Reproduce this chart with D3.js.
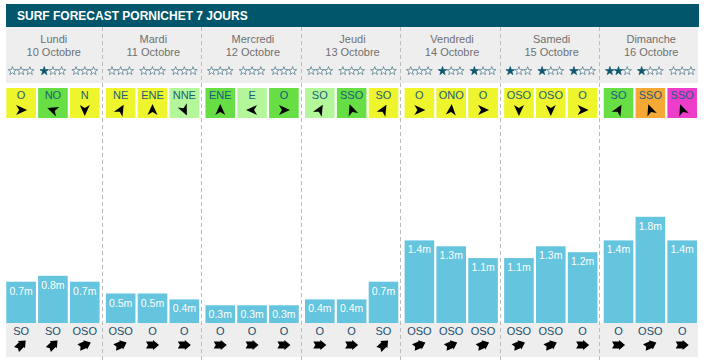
<!DOCTYPE html>
<html lang="fr">
  <head>
    <meta charset="utf-8">
    <title>Surf forecast Pornichet</title>
    <script src="https://cdn.jsdelivr.net/npm/d3@7"></script>
    <style>
html, body {
  margin: 0;
  padding: 0;
  background: #fff;
}
svg {
  display: block;
  font-family: Arial, "Liberation Sans", sans-serif;
}
    </style>
  </head>
  <body>
    <div id="chart"></div>
    <script>

// donnees
var days = ["Lundi", "Mardi", "Mercredi", "Jeudi", "Vendredi", "Samedi", "Dimanche"];
var dates = ["10 Octobre", "11 Octobre", "12 Octobre", "13 Octobre", "14 Octobre", "15 Octobre", "16 Octobre"];
var slots = [0, 1, 2];

// etoiles pleines par creneau
var stars = [[0,1,0],[0,0,0],[0,0,0],[0,0,0],[0,1,1],[1,1,1],[2,1,0]];

// vent
var windDir = [
  ["O","NO","N"], ["NE","ENE","NNE"], ["ENE","E","O"], ["SO","SSO","SO"],
  ["O","ONO","O"], ["OSO","OSO","O"], ["SO","SSO","SSO"]
];
var windLevel = [
  ["y","g","y"], ["y","y","lg"], ["g","lg","g"], ["lg","g","y"],
  ["y","y","y"], ["y","y","y"], ["g","o","m"]
];
// angle de la fleche (degres, 0 = vers la droite)
var windAngle = [
  [0,200,90], [300,270,65], [270,180,0], [300,250,300],
  [0,275,0], [90,90,0], [300,250,250]
];

// houle
var swellHeight = [
  [0.7,0.8,0.7], [0.5,0.5,0.4], [0.3,0.3,0.3], [0.4,0.4,0.7],
  [1.4,1.3,1.1], [1.1,1.3,1.2], [1.4,1.8,1.4]
];
var swellDir = [
  ["SO","SO","OSO"], ["OSO","O","O"], ["O","O","O"], ["O","O","SO"],
  ["OSO","OSO","OSO"], ["OSO","OSO","O"], ["O","OSO","O"]
];

var windColors = {y: "#eef52c", g: "#66de44", lg: "#b3f79a", o: "#f5a833", m: "#ee3ccb"};
var compass = {N:0, NNE:22.5, NE:45, ENE:67.5, E:90, ESE:112.5, SE:135, SSE:157.5,
  S:180, SSO:202.5, SO:225, OSO:247.5, O:270, ONO:292.5, NO:315, NNO:337.5};

var width = 705, height = 364;
var baseY = 323, bottomY = 357;

var svg = d3.select("#chart").append("svg")
    .attr("width", width)
    .attr("height", height);

// echelles
var xDay = d3.scaleBand().domain(d3.range(days.length)).range([3, 700]);
var xSlot = d3.scaleBand().domain(slots).range([3.3, xDay.bandwidth() - 3]).paddingInner(0.07);
var y = d3.scaleLinear().domain([0, 1]).range([0, 59]);

// fonds
svg.append("rect").attr("x", 6).attr("y", 4).attr("width", 693).attr("height", 23).attr("fill", "#02566b");
svg.append("text").attr("x", 17).attr("y", 20)
    .attr("fill", "#fff").attr("font-weight", "bold").attr("font-size", 12)
    .text("SURF FORECAST PORNICHET 7 JOURS");
svg.append("rect").attr("x", 6).attr("y", 27).attr("width", 692).attr("height", 56).attr("fill", "#eeeeee");
svg.append("rect").attr("x", 6).attr("y", baseY).attr("width", 692).attr("height", bottomY - baseY).attr("fill", "#eeeeee");

// separateurs
svg.selectAll(".sep")
    .data(d3.range(1, days.length))
  .enter().append("line")
    .attr("class", "sep")
    .attr("x1", function(d) { return Math.round(xDay(d)) - 0.5; })
    .attr("x2", function(d) { return Math.round(xDay(d)) - 0.5; })
    .attr("y1", 27).attr("y2", 360)
    .attr("stroke", "#bbbbbb").attr("stroke-dasharray", "4,3");

var day = svg.selectAll(".day")
    .data(days)
  .enter().append("g")
    .attr("class", "day")
    .attr("transform", function(d, i) { return "translate(" + xDay(i) + ",0)"; });

day.append("text")
    .attr("x", xDay.bandwidth() / 2 + 1).attr("y", 43)
    .attr("text-anchor", "middle").attr("font-size", 11).attr("fill", "#707070")
    .text(function(d) { return d; });
day.append("text")
    .attr("x", xDay.bandwidth() / 2 + 1).attr("y", 56)
    .attr("text-anchor", "middle").attr("font-size", 11).attr("fill", "#707070")
    .text(function(d, i) { return dates[i]; });

var star = d3.symbol().type(d3.symbolStar).size(22);
var windArrow = "M6,0L-5,-5L-2,0L-5,5Z";
var swellArrow = "M-6.5,-3.5L0.5,-3.5L0.5,-5L6.5,0L0.5,5L0.5,3.5L-6.5,3.5L-4.5,0Z";

var slot = day.selectAll(".slot")
    .data(function(d, i) {
      return slots.map(function(s) {
        return {day: i, s: s,
          stars: stars[i][s],
          wind: windDir[i][s], level: windLevel[i][s], wAngle: windAngle[i][s],
          h: swellHeight[i][s], swell: swellDir[i][s]};
      });
    })
  .enter().append("g")
    .attr("class", "slot")
    .attr("transform", function(d) { return "translate(" + xSlot(d.s) + ",0)"; });

var bw = xSlot.bandwidth();

// etoiles
slot.selectAll(".star")
    .data(function(d) { return [0, 1, 2].map(function(k) { return k < d.stars; }); })
  .enter().append("path")
    .attr("class", "star")
    .attr("d", star)
    .attr("transform", function(d, k) { return "translate(" + (bw / 2 + (k - 1) * 8.7) + ",71)"; })
    .attr("fill", function(d) { return d ? "#0d566f" : "#fff"; })
    .attr("stroke", function(d) { return d ? "#0d566f" : "#567f90"; })
    .attr("stroke-width", 0.8);

// vent
slot.append("rect")
    .attr("x", 0).attr("y", 88).attr("width", bw).attr("height", 30)
    .attr("fill", function(d) { return windColors[d.level]; });
slot.append("text")
    .attr("x", bw / 2).attr("y", 99)
    .attr("text-anchor", "middle").attr("font-size", 11).attr("fill", "#1d5b7c")
    .text(function(d) { return d.wind; });
slot.append("path")
    .attr("d", windArrow)
    .attr("transform", function(d) { return "translate(" + bw / 2 + ",110) rotate(" + d.wAngle + ")"; })
    .attr("fill", "#000");

// houle
slot.append("rect")
    .attr("x", 0).attr("width", bw)
    .attr("y", function(d) { return baseY - y(d.h); })
    .attr("height", function(d) { return y(d.h); })
    .attr("fill", "#65c4de");
slot.append("text")
    .attr("x", bw / 2)
    .attr("y", function(d) { return baseY - y(d.h) + 13; })
    .attr("text-anchor", "middle").attr("font-size", 10.5).attr("fill", "#fff")
    .text(function(d) { return d.h + "m"; });
slot.append("text")
    .attr("x", bw / 2).attr("y", 335)
    .attr("text-anchor", "middle").attr("font-size", 11).attr("fill", "#1b4d6c")
    .text(function(d) { return d.swell; });
slot.append("path")
    .attr("d", swellArrow)
    .attr("transform", function(d) { return "translate(" + bw / 2 + ",345) rotate(" + (compass[d.swell] + 90) + ")"; })
    .attr("fill", "#000");

    </script>
  </body>
</html>
